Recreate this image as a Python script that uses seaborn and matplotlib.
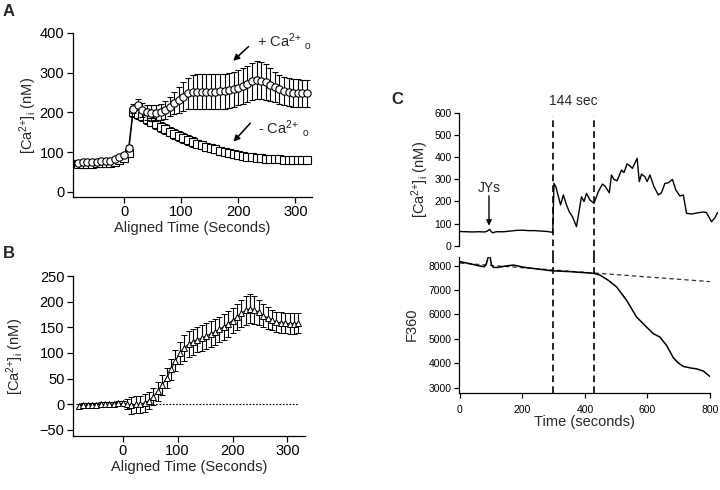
import numpy as np
import matplotlib
matplotlib.use('Agg')
import matplotlib.pyplot as plt
import seaborn as sns

sns.set_style('ticks')
plt.rcParams['font.family'] = ['Liberation Sans', 'DejaVu Sans']
plt.rcParams['mathtext.fontset'] = 'custom'
plt.rcParams['mathtext.rm'] = 'Liberation Sans'
plt.rcParams['mathtext.it'] = 'Liberation Sans:italic'
plt.rcParams['mathtext.bf'] = 'Liberation Sans:bold'

# ---- panel A / B data (aligned time, 8 s sampling) ----
t_aligned = np.arange(-80, 321, 8)

ca_plus = [73, 75, 75, 76, 76, 77, 77, 79, 82, 87,
           93, 111, 210, 220, 206, 200, 198, 198, 201, 206, 215, 223, 231, 240, 248,
           251, 252, 252, 252, 252, 252, 253, 254, 256, 258, 262, 267, 272, 278, 282,
           280, 276, 270, 264, 258, 254, 252, 250, 249, 248, 248]
ca_plus_err = [5, 5, 5, 5, 5, 5, 5, 5, 5, 5,
               6, 8, 12, 14, 18, 20, 20, 20, 21, 22, 25, 28, 32, 36, 40,
               43, 44, 44, 44, 44, 44, 44, 44, 44, 44, 44, 45, 46, 47, 47,
               46, 45, 42, 38, 36, 35, 35, 35, 35, 35, 35]

ca_minus = [70, 70, 71, 71, 72, 72, 73, 74, 76, 80, 86, 99,
            202, 196, 190, 183, 177, 170, 164, 158, 152, 146, 141, 136, 131, 126,
            121, 117, 113, 110, 107, 104, 101, 97, 95, 93, 91, 89, 87, 86, 85,
            84, 83, 82, 82, 81, 81, 80, 80, 80, 80]
ca_minus_err = [5] * 12 + [14] + [12] * 13 + [10] * 10 + [7] * 15

delta_ca = [-4, -2, -2, -1, -1, 0, 0, 0, 1, 2,
            2, 0, -2, 0, 0, 3, 7, 15, 25, 38, 51, 68, 85, 100, 110,
            117, 122, 126, 129, 133, 137, 141, 146, 151, 157, 163, 170, 177, 183, 186,
            184, 179, 173, 168, 164, 160, 159, 158, 157, 157, 158]
delta_err = ([4] * 11 + [10] + [17] * 6 + [18] + [20] * 4 + [22] + [25] * 12
             + [26, 27, 28, 28, 27, 25, 23, 21] + [20] * 7)

# ---- panel C data ----
t_ca = [0, 20, 40, 60, 80, 88, 95, 100, 105, 115, 140, 160, 180, 200, 220, 240, 260, 280,
        294, 297, 301, 307, 322, 331, 341, 350, 360, 373, 389, 397, 405, 416, 429, 443,
        456, 464, 478, 485, 493, 503, 517, 525, 535, 544, 552, 567, 574, 581, 592, 599,
        608, 621, 635, 645, 656, 667, 680, 691, 704, 715, 725, 741, 763, 779, 789, 805,
        816, 824]
ca_trace = [64, 63, 62, 63, 62, 66, 74, 64, 58, 63, 63, 66, 69, 70, 68, 68, 66, 64,
            61, 62, 281, 266, 184, 229, 184, 153, 131, 86, 221, 199, 236, 206, 191, 244,
            278, 269, 239, 319, 299, 293, 341, 330, 369, 360, 349, 394, 289, 323, 311, 289,
            319, 266, 229, 239, 281, 284, 299, 251, 224, 229, 146, 143, 149, 152, 149, 108,
            126, 149]

t_f = [0, 27, 59, 78, 85, 91, 96, 101, 107, 123, 144, 171, 187, 208, 251, 293, 350, 400,
       429, 448, 475, 501, 533, 565, 597, 619, 640, 661, 683, 700, 715, 740, 757, 779,
       790, 800]
f360 = [8165, 8099, 8000, 7959, 8099, 8371, 8400, 8027, 7931, 7931, 7986, 8027, 7986,
        7931, 7863, 7794, 7760, 7715, 7687, 7617, 7400, 7135, 6587, 5899, 5487, 5210,
        5075, 4733, 4222, 4000, 3867, 3800, 3769, 3680, 3560, 3455]
t_base = [0, 800]
f360_base = [8110, 7350]

window = [297, 429]

W, H = 720, 490


def px_axes(left, right, top, bottom):
    return [left / W, 1 - bottom / H, (right - left) / W, (bottom - top) / H]


def style(ax, size=10.5, length=4, pad=2):
    sns.despine(ax=ax)
    for s in ('left', 'bottom'):
        ax.spines[s].set_linewidth(0.9)
        ax.spines[s].set_color('black')
    ax.tick_params(direction='out', length=length, width=0.9, labelsize=size,
                   colors='black', pad=pad)


fig = plt.figure(figsize=(7.2, 4.9), dpi=100)
ylab = r'[Ca$^{2{+}}$]$_{\rm i}$ (nM)'

# ---- A ----
axA = fig.add_axes(px_axes(72.7, 312, 33, 197))
axA.errorbar(t_aligned, ca_minus, yerr=ca_minus_err, fmt='-s', color='black',
             mfc='white', mec='black', ms=5.3, mew=0.8, lw=0.8, elinewidth=0.8,
             capsize=2.5, capthick=0.8, zorder=2)
axA.errorbar(t_aligned, ca_plus, yerr=ca_plus_err, fmt='-o', color='black',
             mfc='white', mec='black', ms=5.3, mew=0.8, lw=0.8, elinewidth=0.8,
             capsize=2.5, capthick=0.8, zorder=3)
axA.set_xlim(-89.8, 329)
axA.set_ylim(-12.6, 400)
axA.set_yticks([0, 100, 200, 300, 400])
axA.set_xticks([0, 100, 200, 300])
style(axA)
axA.set_xlabel('Aligned Time (Seconds)', fontsize=10.5, labelpad=1)
axA.set_ylabel(ylab, fontsize=10.5)
axA.yaxis.set_label_coords(-0.14, 0.5)
axA.annotate('', xy=(191, 330), xytext=(218, 366),
             arrowprops=dict(arrowstyle='-|>', color='black', lw=1.1,
                             mutation_scale=9, shrinkA=0, shrinkB=0))
axA.text(233, 378, r'+ Ca$^{2{+}}$ $_{\rm o}$', fontsize=10.5, va='center')
axA.annotate('', xy=(191.5, 126.6), xytext=(221, 173),
             arrowprops=dict(arrowstyle='-|>', color='black', lw=1.1,
                             mutation_scale=9, shrinkA=0, shrinkB=0))
axA.text(235, 160, r'- Ca$^{2{+}}$ $_{\rm o}$', fontsize=10.5, va='center')

# ---- B ----
axB = fig.add_axes(px_axes(72.7, 305, 276, 436))
axB.hlines(0, -80, 320, colors='black', linestyles=(0, (1.5, 1.5)), lw=0.8, zorder=1)
axB.errorbar(t_aligned, delta_ca, yerr=delta_err, fmt='-^', color='black',
             mfc='white', mec='black', ms=4.5, mew=0.7, lw=0.8, elinewidth=0.8,
             capsize=2.5, capthick=0.8, zorder=3)
axB.set_xlim(-91, 332)
axB.set_ylim(-61.7, 250)
axB.set_yticks([-50, 0, 50, 100, 150, 200, 250])
axB.set_xticks([0, 100, 200, 300])
style(axB)
axB.set_xlabel('Aligned Time (Seconds)', fontsize=10.5, labelpad=1)
axB.set_ylabel(ylab, fontsize=10.5)
axB.yaxis.set_label_coords(-0.2, 0.5)

# ---- C ----
xscale = 0.3125
c_left = 459.3
axC1 = fig.add_axes(px_axes(c_left, c_left + 827 * xscale, 112.7, 245.7))
sns.lineplot(x=t_ca, y=ca_trace, ax=axC1, color='black', lw=1.0,
             estimator=None, sort=False)
axC1.set_xlim(-2, 825)
axC1.set_ylim(0, 600)
axC1.set_yticks(range(0, 601, 100))
style(axC1, size=7.5, length=3.5)
axC1.spines['bottom'].set_visible(False)
axC1.set_xticks([])
axC1.set_ylabel(ylab, fontsize=10.5)
axC1.yaxis.set_label_coords(-0.108, 0.5)

axC2 = fig.add_axes(px_axes(c_left, c_left + 802 * xscale, 256.7, 392.7))
sns.lineplot(x=t_base, y=f360_base, ax=axC2, color='#333333', lw=0.9,
             linestyle=(0, (3.5, 2.5)), estimator=None)
sns.lineplot(x=t_f, y=f360, ax=axC2, color='black', lw=1.1,
             estimator=None, sort=False)
axC2.set_xlim(-2, 800)
axC2.set_ylim(2790, 8371)
axC2.set_yticks(range(3000, 8001, 1000))
axC2.set_xticks([0, 200, 400, 600, 800])
style(axC2, size=7.5, length=3.5)
axC2.tick_params(axis='x', pad=5)
axC2.set_xlabel('Time (seconds)', fontsize=10.5, labelpad=0)
axC2.set_ylabel('F360', fontsize=10.5)
axC2.yaxis.set_label_coords(-0.16, 0.5)

for x in window:
    axC1.axvline(x, ymin=-0.083, ymax=0.977, color='black', lw=1.2,
                 ls=(0, (4, 2.5)), clip_on=False)
    axC2.axvline(x, ymin=0, ymax=1, color='black', lw=1.2, ls=(0, (4, 2.5)))

axC1.text(np.mean(window), 654, '144 sec', fontsize=10, ha='center', va='center')
axC1.text(93, 262, 'JYs', fontsize=10, ha='center', va='center')
axC1.annotate('', xy=(93, 90), xytext=(93, 225),
              arrowprops=dict(arrowstyle='-|>', color='black', lw=1.0,
                              mutation_scale=8, shrinkA=0, shrinkB=0))

# panel letters
for letter, x, y in [('A', 9, 12), ('B', 9, 253), ('C', 397, 99)]:
    fig.text(x / W, 1 - y / H, letter, fontsize=12, fontweight='bold',
             ha='center', va='center')

fig.savefig('out.png', dpi=100)
